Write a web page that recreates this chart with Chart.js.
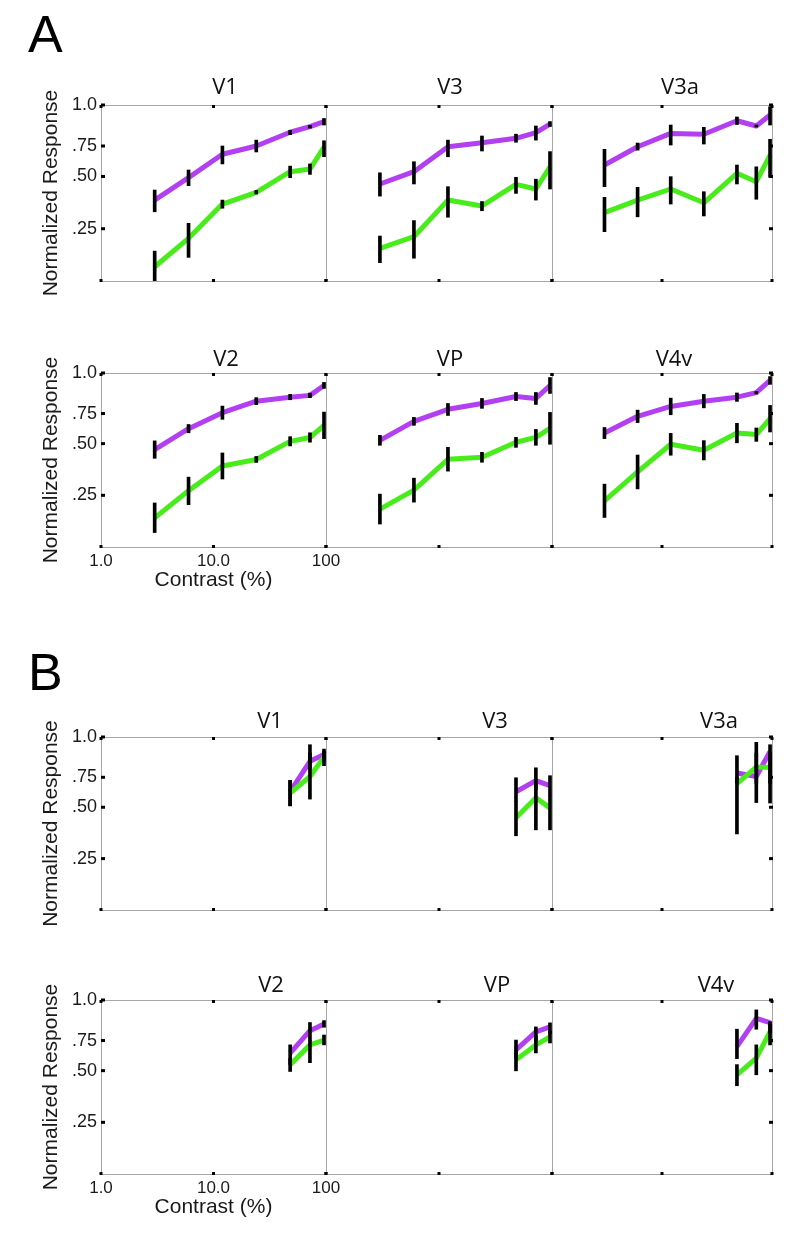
<!DOCTYPE html>
<html>
<head>
<meta charset="utf-8">
<script src="https://cdn.jsdelivr.net/npm/chart.js@4.4.1/dist/chart.umd.min.js"></script>
<style>
  html, body { margin: 0; padding: 0; background: #fff; }
  #fig { position: relative; width: 800px; height: 1236px; overflow: hidden; background: #fff; }
  #fig canvas { position: absolute; }
  .title { position: absolute; font-family: "Open Sans", sans-serif; font-size: 22px; line-height: 22px;
           color: #111; transform: translate(-50%, -50%); white-space: nowrap; }
  .letter { position: absolute; font-family: "Liberation Sans", Arial, sans-serif; font-size: 52px;
            line-height: 52px; color: #000; }
</style>
</head>
<body>
<div id="fig"></div>
<script>
// contrast levels (%) and axis ticks
const CONTRAST_A = [3, 6, 12, 24, 48, 72, 96];
const CONTRAST_B = [48, 72, 96];
const PANELS = ['V1', 'V3', 'V3a', 'V2', 'VP', 'V4v'];
const X_TICKS = [1, 10, 100];
const X_TICK_LABELS = ['1.0', '10.0', '100'];
const Y_TICKS = [0.25, 0.5, 0.75, 1.0];
const Y_TICK_LABELS = ['.25', '.50', '.75', '1.0'];

// section A, one row per panel (PANELS order)
const A_PURPLE = [
  [.387, .494, .682, .750, .834, .868, .898],
  [.464, .539, .744, .770, .797, .832, .884],
  [.594, .744, .827, .822, .904, .872, .939],
  [.471, .624, .755, .826, .851, .862, .923],
  [.527, .685, .776, .812, .855, .843, .923],
  [.588, .727, .794, .826, .851, .879, .954]
];
const A_PURPLE_LO = [
  [.331, .456, .603, .701, .819, .859, .878],
  [.406, .464, .662, .709, .773, .786, .869],
  [.451, .716, .756, .762, .881, .866, .878],
  [.429, .590, .702, .805, .835, .848, .905],
  [.492, .652, .734, .782, .830, .806, .874],
  [.542, .675, .740, .785, .825, .871, .930]
];
const A_PURPLE_HI = [
  [.435, .553, .750, .786, .845, .876, .918],
  [.530, .621, .786, .811, .822, .872, .899],
  [.723, .768, .878, .864, .927, .878, .989],
  [.523, .659, .796, .848, .868, .876, .942],
  [.569, .718, .812, .843, .880, .880, .972],
  [.634, .771, .845, .868, .877, .886, .978]
];
const A_GREEN = [
  [.068, .204, .368, .424, .539, .561, .740],
  [.156, .212, .387, .359, .462, .440, .579],
  [.327, .387, .440, .374, .526, .475, .676],
  [.141, .272, .392, .423, .519, .551, .652],
  [.183, .275, .424, .434, .512, .552, .627],
  [.223, .363, .497, .468, .588, .575, .708]
];
const A_GREEN_LO = [
  [0, .113, .348, .416, .494, .517, .662],
  [.088, .109, .305, .336, .419, .387, .440],
  [.236, .307, .368, .311, .464, .391, .496],
  [.070, .205, .329, .409, .489, .512, .542],
  [.111, .217, .367, .410, .482, .492, .497],
  [.143, .281, .444, .421, .507, .519, .597]
];
const A_GREEN_HI = [
  [.143, .276, .387, .433, .585, .603, .782],
  [.215, .289, .451, .380, .496, .487, .704],
  [.400, .448, .499, .427, .594, .579, .791],
  [.213, .338, .455, .438, .558, .590, .759],
  [.256, .333, .482, .458, .552, .618, .757],
  [.304, .445, .585, .525, .669, .630, .800]
];

// section B
const B_PURPLE = [
  [.631, .849, .891], [.629, .722, .680], [.777, .755, .911],
  [.645, .811, .852], [.672, .803, .834], [.699, .887, .861]
];
const B_PURPLE_LO = [
  [.512, .80, .85], [.55, .65, .60], [.70, .539, .535],
  [.55, .75, .832], [.60, .75, .79], [.60, .820, .80]
];
const B_PURPLE_HI = [
  [.724, .90, .925], [.746, .809, .760], [.884, .967, .952],
  [.714, .861, .873], [.753, .834, .859], [.820, .939, .867]
];
const B_GREEN = [
  [.618, .755, .876], [.449, .580, .497], [.697, .813, .813],
  [.548, .714, .753], [.590, .714, .773], [.480, .604, .805]
];
const B_GREEN_LO = [
  [.512, .568, .822], [.361, .390, .39], [.370, .70, .70],
  [.496, .566, .714], [.499, .647, .730], [.427, .480, .714]
];
const B_GREEN_HI = [
  [.724, .952, .91], [.55, .70, .60], [.75, .90, .90],
  [.60, .75, .784], [.67, .78, .81], [.55, .714, .85]
];

const PURPLE = '#b23ff2';
const GREEN = '#48ec1a';
const AX_FONT = "'Liberation Sans', Arial, sans-serif";
const TXT = '#1a1a1a';

// the response axis of the figure is not linear: ticks sit at these fractions of the height
class WarpScale extends Chart.LinearScale {
  warp(v) {
    const vs = [0, .25, .5, .75, 1], ds = [0, .297, .594, .767, 1];
    if (v <= 0) return v * ds[1] / vs[1];
    for (let i = 1; i < vs.length; i++) {
      if (v <= vs[i] || i === vs.length - 1) {
        return ds[i - 1] + (v - vs[i - 1]) * (ds[i] - ds[i - 1]) / (vs[i] - vs[i - 1]);
      }
    }
  }
  unwarp(d) {
    const vs = [0, .25, .5, .75, 1], ds = [0, .297, .594, .767, 1];
    for (let i = 1; i < ds.length; i++) {
      if (d <= ds[i] || i === ds.length - 1) {
        return vs[i - 1] + (d - ds[i - 1]) * (vs[i] - vs[i - 1]) / (ds[i] - ds[i - 1]);
      }
    }
  }
  getPixelForValue(value) {
    return value === null ? NaN : this.getPixelForDecimal(this.warp(value));
  }
  getValueForPixel(pixel) {
    return this.unwarp(this.getDecimalForPixel(pixel));
  }
}
WarpScale.id = 'warp';
WarpScale.defaults = Chart.LinearScale.defaults;
Chart.register(WarpScale);

// gray frame + small inward tick marks
const panelBox = {
  id: 'panelBox',
  beforeDatasetsDraw(chart, args, opts) {
    const { ctx, chartArea: a, scales: { x, y } } = chart;
    ctx.save();
    ctx.strokeStyle = '#a6a6a6';
    ctx.lineWidth = 1;
    ctx.strokeRect(a.left + 0.5, a.top + 0.5, a.right - a.left, a.bottom - a.top);
    ctx.fillStyle = '#000';
    X_TICKS.forEach(v => {
      const px = x.getPixelForValue(v);
      ctx.fillRect(px - 1.5, a.top, 3, 3);
      ctx.fillRect(px - 1.5, a.bottom - 2, 3, 3);
    });
    Y_TICKS.forEach(v => {
      const py = y.getPixelForValue(v);
      if (opts.left) ctx.fillRect(a.left, py - 1.5, 4, 3);
      if (opts.right) ctx.fillRect(a.right - 3, py - 1.5, 4, 3);
    });
    ctx.restore();
  }
};

const BOX_X = [[101, 326], [326, 552], [552, 772]];
const PAD = 30, SIDE = 20, Y_AXIS_W = 101, X_AXIS_H = 50;

const SECTIONS = [
  { letter: 'A', letterTop: 8, rows: [[105, 281], [373, 547]], contrast: CONTRAST_A,
    p: A_PURPLE, pLo: A_PURPLE_LO, pHi: A_PURPLE_HI, g: A_GREEN, gLo: A_GREEN_LO, gHi: A_GREEN_HI,
    titles: [[225, 85], [450, 85], [680, 85], [226, 357], [450, 357], [674, 357]] },
  { letter: 'B', letterTop: 646, rows: [[737, 910], [1000, 1174]], contrast: CONTRAST_B,
    p: B_PURPLE, pLo: B_PURPLE_LO, pHi: B_PURPLE_HI, g: B_GREEN, gLo: B_GREEN_LO, gHi: B_GREEN_HI,
    titles: [[270, 719], [495, 719], [719, 719], [271, 983], [497, 983], [716, 983]] }
];

const fig = document.getElementById('fig');

function addDiv(cls, text, left, top) {
  const d = document.createElement('div');
  d.className = cls;
  d.textContent = text;
  d.style.left = left + 'px';
  d.style.top = top + 'px';
  fig.appendChild(d);
}

SECTIONS.forEach(sec => {
  addDiv('letter', sec.letter, 28, sec.letterTop);

  PANELS.forEach((name, i) => {
    const col = i % 3, row = Math.floor(i / 3);
    const [bl, br] = BOX_X[col];
    const [bt, bb] = sec.rows[row];
    const first = col === 0, last = col === 2, labelled = first && row === 1;

    const left = first ? 0 : bl - SIDE;
    const width = br + SIDE - left;
    const top = bt - PAD;
    const height = (bb - bt) + PAD + (labelled ? X_AXIS_H : PAD);

    const canvas = document.createElement('canvas');
    canvas.width = width;
    canvas.height = height;
    canvas.style.left = left + 'px';
    canvas.style.top = top + 'px';
    canvas.style.width = width + 'px';
    canvas.style.height = height + 'px';
    fig.appendChild(canvas);

    const c = sec.contrast;
    const errSet = (lo, hi) => ({
      type: 'bar',
      data: c.map((x, k) => ({ x: x, y: [lo[i][k], hi[i][k]] })),
      backgroundColor: '#000',
      borderWidth: 0,
      barThickness: 3,
      grouped: false,
      order: 0
    });
    const lineSet = (vals, color, order) => ({
      type: 'line',
      data: c.map((x, k) => ({ x: x, y: vals[i][k] })),
      borderColor: color,
      borderWidth: 5,
      pointRadius: 0,
      tension: 0,
      fill: false,
      clip: false,
      borderJoinStyle: 'round',
      order: order
    });

    new Chart(canvas, {
      type: 'line',
      data: {
        datasets: [
          errSet(sec.gLo, sec.gHi),
          errSet(sec.pLo, sec.pHi),
          lineSet(sec.g, GREEN, 1),
          lineSet(sec.p, PURPLE, 2)
        ]
      },
      options: {
        responsive: false,
        animation: false,
        devicePixelRatio: 1,
        events: [],
        layout: { padding: { left: first ? 0 : SIDE, right: SIDE, top: PAD, bottom: labelled ? 0 : PAD } },
        plugins: {
          legend: { display: false },
          tooltip: { enabled: false },
          panelBox: { left: first, right: last }
        },
        scales: {
          x: {
            type: 'logarithmic', min: 1, max: 100, offset: false, display: labelled,
            grid: { display: false, drawTicks: false, offset: false },
            border: { display: false },
            afterBuildTicks: s => { s.ticks = X_TICKS.map(v => ({ value: v })); },
            afterFit: s => { if (labelled) s.height = X_AXIS_H; },
            ticks: {
              autoSkip: false, maxRotation: 0, padding: 4, color: TXT,
              font: { family: AX_FONT, size: 17 },
              callback: v => X_TICK_LABELS[X_TICKS.indexOf(v)]
            },
            title: {
              display: true, text: 'Contrast (%)', color: TXT,
              font: { family: AX_FONT, size: 21 }, padding: { top: 0, bottom: 4 }
            }
          },
          y: {
            type: 'warp', min: 0, max: 1, display: first,
            grid: { display: false, drawTicks: false },
            border: { display: false },
            afterBuildTicks: s => { s.ticks = Y_TICKS.map(v => ({ value: v })); },
            afterFit: s => { if (first) s.width = Y_AXIS_W; },
            ticks: {
              padding: 4, color: TXT,
              font: { family: AX_FONT, size: 18 },
              callback: v => Y_TICK_LABELS[Y_TICKS.indexOf(v)]
            },
            title: {
              display: true, text: 'Normalized Response', color: TXT,
              font: { family: AX_FONT, size: 21 }, padding: { top: 39, bottom: 0 }
            }
          }
        }
      },
      plugins: [panelBox]
    });

    addDiv('title', name, sec.titles[i][0], sec.titles[i][1]);
  });
});
</script>
</body>
</html>
